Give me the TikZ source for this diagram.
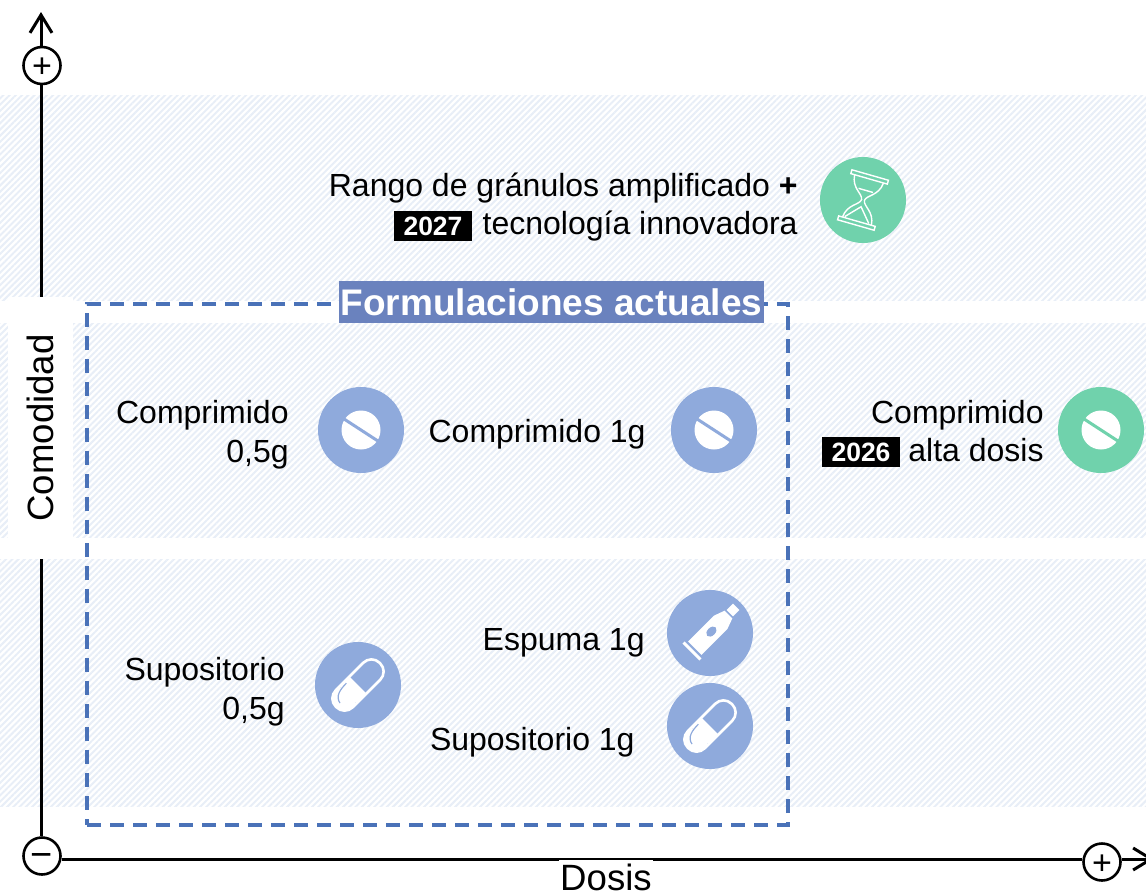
\documentclass[tikz,border=0pt]{standalone}
\usepackage{fontspec}
\setmainfont{Liberation Sans}
\usepackage{xcolor}
\usetikzlibrary{arrows.meta,patterns.meta,positioning}
\definecolor{bandhatch}{HTML}{E8EEF7}
\definecolor{discblue}{HTML}{8FAADC}
\definecolor{discgreen}{HTML}{70D2AC}
\definecolor{titleblue}{HTML}{6A82BE}
\definecolor{frameblue}{HTML}{4A72B8}
\tikzset{
  band/.style={pattern={Lines[angle=45,distance=4.4pt,line width=2pt]}, pattern color=bandhatch},
  disc/.style={circle, minimum size=86pt, inner sep=0pt, fill=#1},
  label/.style={align=right, inner sep=0pt, font=\fontsize{32}{38.5}\selectfont},
  yeartag/.style={fill=black, text=white, minimum width=78pt, minimum height=30pt, inner sep=0pt, font=\fontsize{26.5}{30}\selectfont\bfseries},
  sign/.style={draw, circle, line width=2.6pt, fill=white, minimum size=37pt, inner sep=0pt, font=\fontsize{34}{34}\selectfont},
  axis/.style={line width=3pt},
  axistip/.style={axis, -{Straight Barb[length=18pt,width=22pt,line width=3pt]}},
  pics/tablet/.style={code={
    \fill[white] (0,0) circle (19.5);
    \draw[#1, line width=3pt] (-20,-13) -- (20,13);
  }},
  pics/capsule/.style={code={
    \begin{scope}[rotate=45]
      \draw[white, line width=2.6pt, rounded corners=11.5pt] (-31,-12) rectangle (31,12);
      \fill[white, rounded corners=11.5pt] (-31,-12) rectangle (-8,12);
      \fill[white] (-14,-12) rectangle (0,12);
      \draw[discblue, line width=1.2pt] (-7,-9.5) .. controls (-16,-9.5) and (-24,-8) .. (-25.5,0);
    \end{scope}
  }},
  pics/tube/.style={code={
    \begin{scope}[rotate=45]
      \fill[white] (-27,-12) rectangle (-24,12);
      \fill[white] (-21.5,-9.5) -- (15,-9.5) -- (26,-5.5) -- (26,5.5) -- (15,9.5) -- (-21.5,9.5) -- cycle;
      \fill[white] (28,-4.5) rectangle (37,4.5);
      \fill[discblue] (2,0) ellipse (6 and 4);
    \end{scope}
  }},
  pics/hourglass/.style={code={
    \begin{scope}[rotate=-16, white, line width=1.4pt]
      \draw (-19,-26) rectangle (19,-22);
      \draw (-19,22) rectangle (19,26);
      \draw (-15,-22) .. controls (-14,-8) and (-2,-6) .. (-1.5,0) .. controls (-2,6) and (-14,8) .. (-15,22);
      \draw (15,-22) .. controls (14,-8) and (2,-6) .. (1.5,0) .. controls (2,6) and (14,8) .. (15,22);
      \draw (-7.5,-10) -- (7.5,-10);
      \draw (-13,21) -- (0,7) -- (12,21);
    \end{scope}
  }}
}
\begin{document}
\begin{tikzpicture}[x=1pt, y=-1pt]
\useasboundingbox (0,0) rectangle (1146,895);
%
\path[band] (0,95) rectangle (1146,300);
\path[band] (0,323) rectangle (1146,537);
\path[band] (0,559) rectangle (1146,806);
%
\node (Yplus) [sign] at (42,65.5) {\raisebox{-12pt}[0pt][0pt]{+}};
\node (Yminus) [sign] at (42,856) {\raisebox{-11pt}[0pt][0pt]{\fontsize{38}{38}\selectfont −}};
\node (Xplus) [sign] at (1102,862) {\raisebox{-12pt}[0pt][0pt]{+}};
\coordinate (Ytip) at (41,12);
\coordinate (Xtip) at (1154,859);
%
\path[axis] (Yminus.north -| Ytip) edge (Yplus.south -| Ytip);
\path[axistip] (Yplus.north -| Ytip) edge (Ytip);
\path[axis] (Yminus.east |- Xtip) edge (Xplus.west |- Xtip);
\path[axistip] (Xplus.east |- Xtip) edge (Xtip);
%
\node (Comodidad) [rotate=90, fill=white, minimum width=262pt, minimum height=65pt, inner sep=0pt, font=\fontsize{36.6}{40}\selectfont] at (40.5,428) {Comodidad};
\node (Dosis) [fill=white, minimum width=94pt, minimum height=35pt, inner sep=0pt, font=\fontsize{36.6}{40}\selectfont] at (606,877.5) {\raisebox{-2pt}{Dosis}};
%
\node (Frame) [draw=frameblue, line width=3.5pt, dash pattern=on 14pt off 9pt, minimum width=701pt, minimum height=521pt, inner sep=0pt] at (437.5,564.5) {};
\node (Title) [fill=titleblue, text=white, minimum width=425pt, minimum height=42pt, inner sep=0pt, font=\fontsize{37}{40}\selectfont\bfseries] at (551.5,302) {Formulaciones actuales};
%
\node (Hourglass) [disc=discgreen] at (863,200) {};
\node (TabletA) [disc=discblue] at (361,430) {};
\node (TabletB) [disc=discblue] at (714,430) {};
\node (TabletC) [disc=discgreen] at (1101,430) {};
\node (CapsuleA) [disc=discblue] at (358,685) {};
\node (TubeB) [disc=discblue] at (710,633) {};
\node (CapsuleB) [disc=discblue] at (710,726) {};
%
\pic at (Hourglass) {hourglass};
\pic at (TabletA) {tablet=discblue};
\pic at (TabletB) {tablet=discblue};
\pic at (TabletC) {tablet=discgreen};
\pic at (CapsuleA) {capsule};
\pic at (TubeB) {tube};
\pic at (CapsuleB) {capsule};
%
\node (LabelRange) [label, left=22pt of Hourglass, yshift=-7pt] {Rango de gránulos amplificado \textbf{+}\\tecnología innovadora};
\node (LabelTabletA) [label, left=29pt of TabletA, yshift=-4.5pt] {Comprimido\\0,5g};
\node (LabelTabletB) [label, left=25pt of TabletB, yshift=-4pt] {Comprimido 1g};
\node (LabelTabletC) [label, left=14pt of TabletC, yshift=-1pt] {Comprimido\\alta dosis};
\node (LabelCapsuleA) [label, left=30pt of CapsuleA, yshift=-6.5pt] {Supositorio\\0,5g};
\node (LabelTubeB) [label, left=22pt of TubeB, yshift=-10pt] {Espuma 1g};
\node (LabelCapsuleB) [label, left=32pt of CapsuleB, yshift=-16pt] {Supositorio 1g};
%
\node (Year2027) [yeartag] at (433,226) {2027};
\node (Year2026) [yeartag] at (861,452) {2026};
\end{tikzpicture}
\end{document}
